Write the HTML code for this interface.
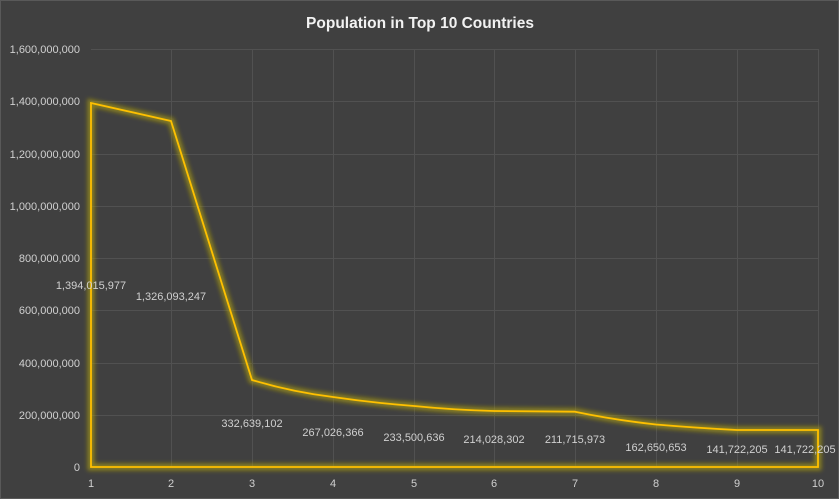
<!DOCTYPE html>
<html><head><meta charset="utf-8"><style>
html,body{margin:0;padding:0;background:#404040;}
svg{display:block;font-family:"Liberation Sans",sans-serif;}
</style></head><body>
<svg width="839" height="499" viewBox="0 0 839 499">
<defs><filter id="g" x="-10%" y="-10%" width="120%" height="120%"><feGaussianBlur stdDeviation="2"/></filter></defs>
<rect width="839" height="499" fill="#404040"/>
<rect x="0.5" y="0.5" width="838" height="498" fill="none" stroke="#595959"/>
<text x="420" y="28" text-anchor="middle" font-size="15.5" font-weight="bold" fill="#f2f2f2">Population in Top 10 Countries</text>
<g stroke="#515151" stroke-width="1">
<line x1="91" y1="49.5" x2="819" y2="49.5"/><line x1="91" y1="101.5" x2="819" y2="101.5"/>
<line x1="91" y1="154.5" x2="819" y2="154.5"/><line x1="91" y1="206.5" x2="819" y2="206.5"/>
<line x1="91" y1="258.5" x2="819" y2="258.5"/><line x1="91" y1="310.5" x2="819" y2="310.5"/>
<line x1="91" y1="363.5" x2="819" y2="363.5"/><line x1="91" y1="415.5" x2="819" y2="415.5"/>
<line x1="171.5" y1="49" x2="171.5" y2="467"/><line x1="252.5" y1="49" x2="252.5" y2="467"/>
<line x1="333.5" y1="49" x2="333.5" y2="467"/><line x1="414.5" y1="49" x2="414.5" y2="467"/>
<line x1="494.5" y1="49" x2="494.5" y2="467"/><line x1="575.5" y1="49" x2="575.5" y2="467"/>
<line x1="656.5" y1="49" x2="656.5" y2="467"/><line x1="737.5" y1="49" x2="737.5" y2="467"/>
<line x1="818.5" y1="49" x2="818.5" y2="467"/>
</g>
<g font-size="11" fill="#d0d0d0" text-anchor="end">
<text x="80" y="53">1,600,000,000</text><text x="80" y="105">1,400,000,000</text>
<text x="80" y="158">1,200,000,000</text><text x="80" y="210">1,000,000,000</text>
<text x="80" y="262">800,000,000</text><text x="80" y="314">600,000,000</text>
<text x="80" y="367">400,000,000</text><text x="80" y="419">200,000,000</text>
<text x="80" y="471">0</text>
</g>
<g font-size="11" fill="#d0d0d0" text-anchor="middle">
<text x="91" y="487">1</text><text x="171" y="487">2</text><text x="252" y="487">3</text>
<text x="333" y="487">4</text><text x="414" y="487">5</text><text x="494" y="487">6</text>
<text x="575" y="487">7</text><text x="656" y="487">8</text><text x="737" y="487">9</text>
<text x="818" y="487">10</text>
</g>
<path id="p" d="M91,467 L91,103 L171,121 L252,380 Q292,392 333,397 Q374,403 414,406 Q454,410 494,411 L575,411.7 Q615,420 656,424.5 Q697,428 737,430 L818,430 L818,467 Z" fill="none"/>
<use href="#p" stroke="#a89a10" stroke-opacity="0.7" stroke-width="7" filter="url(#g)"/>
<use href="#p" stroke="#ffc000" stroke-width="1.8"/>
<g font-size="11" fill="#d0d0d0" text-anchor="middle">
<text x="91" y="289">1,394,015,977</text><text x="171" y="300">1,326,093,247</text>
<text x="252" y="427">332,639,102</text><text x="333" y="436">267,026,366</text>
<text x="414" y="441">233,500,636</text><text x="494" y="443">214,028,302</text>
<text x="575" y="443">211,715,973</text><text x="656" y="451">162,650,653</text>
<text x="737" y="453">141,722,205</text><text x="805" y="453">141,722,205</text>
</g>
</svg>
</body></html>
